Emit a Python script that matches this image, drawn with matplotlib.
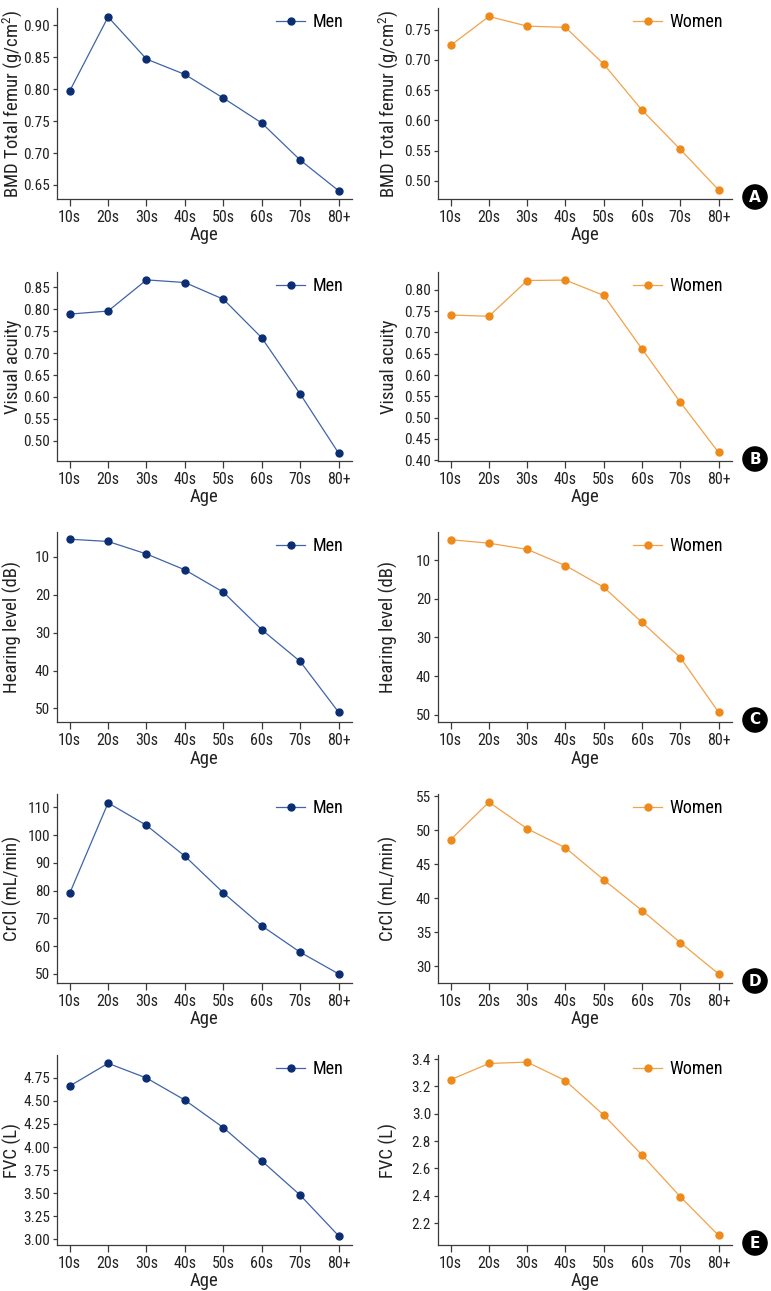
import matplotlib
matplotlib.use("Agg")
import matplotlib.pyplot as plt
from matplotlib import font_manager

# pick a condensed sans if one is installed
installed = set(f.name for f in font_manager.fontManager.ttflist)
font = 'DejaVu Sans'
for cand in ['Roboto Condensed', 'Archivo Narrow', 'PT Sans Narrow', 'Liberation Sans Narrow',
             'Fira Sans Condensed', 'IBM Plex Sans Condensed', 'Barlow Condensed']:
    if cand in installed:
        font = cand
        break
plt.rcParams['font.family'] = [font, 'DejaVu Sans']
plt.rcParams['mathtext.fontset'] = 'custom'
plt.rcParams['mathtext.rm'] = font

ages = ['10s', '20s', '30s', '40s', '50s', '60s', '70s', '80+']

# men / women values per panel
bmd_men = [0.797, 0.913, 0.847, 0.823, 0.786, 0.747, 0.689, 0.641]
bmd_women = [0.724, 0.772, 0.756, 0.754, 0.693, 0.617, 0.552, 0.485]
va_men = [0.789, 0.796, 0.867, 0.861, 0.823, 0.735, 0.607, 0.472]
va_women = [0.741, 0.738, 0.822, 0.823, 0.787, 0.661, 0.536, 0.418]
hear_men = [5.3, 5.9, 9.2, 13.4, 19.3, 29.2, 37.6, 51.0]
hear_women = [4.7, 5.6, 7.2, 11.4, 17.0, 26.1, 35.2, 49.4]
crcl_men = [79.0, 111.6, 103.5, 92.4, 79.2, 67.3, 57.8, 50.0]
crcl_women = [48.6, 54.1, 50.2, 47.4, 42.7, 38.2, 33.5, 28.9]
fvc_men = [4.66, 4.906, 4.747, 4.508, 4.21, 3.85, 3.48, 3.04]
fvc_women = [3.249, 3.368, 3.378, 3.242, 2.99, 2.698, 2.393, 2.11]

ylabels = ['BMD Total femur (g/cm$^2$)', 'Visual acuity', 'Hearing level (dB)',
           'CrCl (mL/min)', 'FVC (L)']
panel_letters = ['A', 'B', 'C', 'D', 'E']

men_data = [bmd_men, va_men, hear_men, crcl_men, fvc_men]
women_data = [bmd_women, va_women, hear_women, crcl_women, fvc_women]

# (ylim, ticks, format) for men / women
men_axes = [((0.628, 0.927), [0.65, 0.70, 0.75, 0.80, 0.85, 0.90], '%.2f'),
            ((0.454, 0.885), [0.50, 0.55, 0.60, 0.65, 0.70, 0.75, 0.80, 0.85], '%.2f'),
            ((53.6, 3.4), [10, 20, 30, 40, 50], '%d'),
            ((46.7, 114.8), [50, 60, 70, 80, 90, 100, 110], '%d'),
            ((2.94, 4.996), [3.00, 3.25, 3.50, 3.75, 4.00, 4.25, 4.50, 4.75], '%.2f')]
women_axes = [((0.470, 0.786), [0.50, 0.55, 0.60, 0.65, 0.70, 0.75], '%.2f'),
              ((0.398, 0.842), [0.40, 0.45, 0.50, 0.55, 0.60, 0.65, 0.70, 0.75, 0.80], '%.2f'),
              ((51.9, 2.7), [10, 20, 30, 40, 50], '%d'),
              ((27.56, 55.3), [30, 35, 40, 45, 50, 55], '%d'),
              ((2.04, 3.43), [2.2, 2.4, 2.6, 2.8, 3.0, 3.2, 3.4], '%.1f')]

W, H = 771, 1291
fig = plt.figure(figsize=(W / 100, H / 100), dpi=100)

row_px = [(8, 199), (272, 461), (532, 722), (794, 983), (1055, 1245)]
col_px = [(57, 352), (438, 732)]
label_x = [-0.15, -0.168]

men_line = '#3f64a8'
men_mark = '#0b2e73'
wom_line = '#f2a24a'
wom_mark = '#ee8a1a'
spine_c = '#3a3a3a'

for r in range(5):
    top, bot = row_px[r]
    for c in range(2):
        x0, x1 = col_px[c]
        ax = fig.add_axes([x0 / W, 1 - bot / H, (x1 - x0) / W, (bot - top) / H])
        if c == 0:
            vals, (ylim, ticks, fmt) = men_data[r], men_axes[r]
            lc, mc, lab = men_line, men_mark, 'Men'
        else:
            vals, (ylim, ticks, fmt) = women_data[r], women_axes[r]
            lc, mc, lab = wom_line, wom_mark, 'Women'
        ax.plot(range(len(ages)), vals, color=lc, lw=0.9, marker='o', ms=5,
                mfc=mc, mec=mc, label=lab)
        ax.set_xlim(-0.33, 7.35)
        ax.set_ylim(*ylim)
        ax.set_yticks(ticks)
        ax.set_yticklabels([fmt % t for t in ticks])
        ax.set_xticks(range(len(ages)))
        ax.set_xticklabels(ages)
        ax.tick_params(axis='both', labelsize=11, colors=spine_c, width=0.9,
                       labelcolor='#222222')
        ax.tick_params(axis='x', labelsize=11.5, length=5, pad=3)
        ax.tick_params(axis='y', length=3, pad=2)
        for s in ['top', 'right']:
            ax.spines[s].set_visible(False)
        for s in ['left', 'bottom']:
            ax.spines[s].set_color(spine_c)
            ax.spines[s].set_linewidth(0.9)
        ax.set_xlabel('Age', fontsize=13.5, color='#222222', labelpad=1)
        ax.set_ylabel(ylabels[r], fontsize=13.5, color='#222222', va='center')
        ax.yaxis.set_label_coords(label_x[c], 0.5)
        ax.legend(loc='upper right', frameon=False, fontsize=13,
                  handlelength=1.6, handletextpad=0.4, borderaxespad=0.1,
                  bbox_to_anchor=(1.0, 1.02))
    fig.text(755 / W, 1 - (bot - 2) / H, panel_letters[r], ha='center', va='center',
             fontsize=11, fontweight='bold', color='white',
             family=['DejaVu Sans'],
             bbox=dict(boxstyle='circle,pad=0.3', fc='black', ec='black'))

fig.savefig('out.png', dpi=100, facecolor='white')
